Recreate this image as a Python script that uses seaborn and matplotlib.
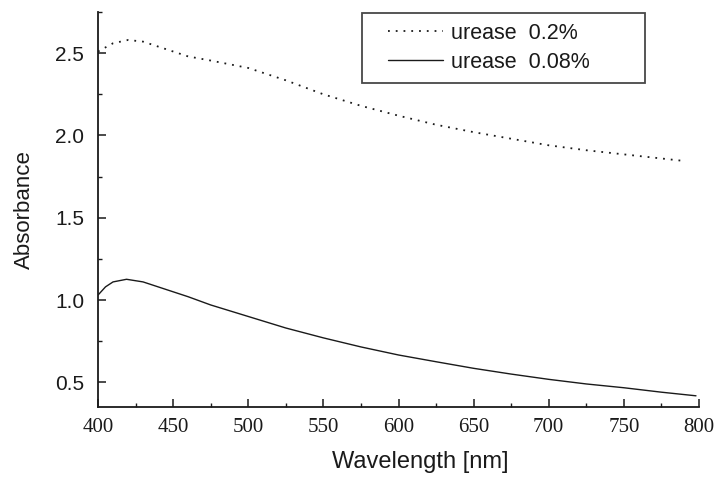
import matplotlib
matplotlib.use("Agg")
import matplotlib.pyplot as plt
import seaborn as sns
import pandas as pd
from matplotlib.ticker import MultipleLocator
from matplotlib.legend_handler import HandlerLine2D

# ---- data ----
wl_02 = [400, 410, 420, 430, 440, 450, 460, 475, 500, 525, 550, 575, 600,
         625, 650, 675, 700, 725, 750, 775, 790]
abs_02 = [2.51, 2.56, 2.58, 2.57, 2.54, 2.51, 2.48, 2.455, 2.41, 2.335, 2.25,
          2.18, 2.12, 2.065, 2.02, 1.98, 1.94, 1.91, 1.885, 1.86, 1.845]

wl_008 = [400, 405, 410, 419, 430, 440, 450, 460, 475, 500, 525, 550, 575,
          600, 625, 650, 675, 700, 725, 750, 775, 798]
abs_008 = [1.03, 1.08, 1.11, 1.126, 1.11, 1.08, 1.05, 1.02, 0.97, 0.90, 0.83,
           0.77, 0.715, 0.666, 0.625, 0.585, 0.55, 0.518, 0.49, 0.467, 0.44,
           0.418]

labels = ["urease  0.2%", "urease  0.08%"]
x_ticks = [400, 450, 500, 550, 600, 650, 700, 750, 800]
y_ticks = [0.5, 1.0, 1.5, 2.0, 2.5]

sns.set_theme(style="white")
plt.rcParams["font.family"] = ["Liberation Sans", "DejaVu Sans"]

fig = plt.figure(figsize=(7.25, 4.78), dpi=100)
ax = fig.add_axes([98 / 725, 1 - 407 / 478, 601 / 725, 395 / 478])

df02 = pd.DataFrame({"wl": wl_02, "a": abs_02})
df008 = pd.DataFrame({"wl": wl_008, "a": abs_008})

sns.lineplot(data=df02, x="wl", y="a", ax=ax, color="#1a1a1a",
             linestyle=(0, (1, 3.3)), linewidth=1.3, label=labels[0])
sns.lineplot(data=df008, x="wl", y="a", ax=ax, color="#1a1a1a",
             linestyle="-", linewidth=1.0, label=labels[1])

ax.set_xlim(400, 800)
ax.set_ylim(0.35, 2.75)
ax.set_xticks(x_ticks)
ax.set_yticks(y_ticks)
ax.xaxis.set_minor_locator(MultipleLocator(25))
ax.yaxis.set_minor_locator(MultipleLocator(0.25))
ax.set_xticklabels([str(v) for v in x_ticks], family="Liberation Serif",
                   fontsize=15)
ax.set_yticklabels([f"{v:.1f}" for v in y_ticks], fontsize=15)

ax.tick_params(axis="both", which="major", direction="in", length=6,
               width=1.1, color="#1a1a1a", labelcolor="#1a1a1a")
ax.tick_params(axis="both", which="minor", direction="in", length=3,
               width=1.0, color="#1a1a1a")
ax.tick_params(axis="x", which="both", bottom=True, pad=8)
ax.tick_params(axis="y", which="both", left=True, pad=10)

for s in ["top", "right"]:
    ax.spines[s].set_visible(False)
for s in ["left", "bottom"]:
    ax.spines[s].set_color("#1a1a1a")
    ax.spines[s].set_linewidth(1.3)

ax.set_xlabel("Wavelength [nm]", fontsize=17, color="#1a1a1a")
ax.set_ylabel("Absorbance", fontsize=16, color="#1a1a1a")
ax.xaxis.set_label_coords(0.536, -0.112)
ax.yaxis.set_label_coords(-0.105, 0.5)

fs = 15.5
handles = ax.get_lines()[:2]
leg = ax.legend(handles, labels, loc="upper left",
                bbox_to_anchor=(362 / 725, 1 - 78 / 478, 283 / 725, 65 / 478),
                bbox_transform=fig.transFigure, mode="expand",
                fontsize=fs, frameon=True, fancybox=False, shadow=False,
                borderpad=0.45, labelspacing=0.38, handlelength=3.32,
                handletextpad=0.37, borderaxespad=0.0,
                handler_map={h: HandlerLine2D(xpad=0.76) for h in handles})
leg.get_frame().set_edgecolor("#1a1a1a")
leg.get_frame().set_linewidth(1.3)
for t in leg.get_texts():
    t.set_color("#1a1a1a")

fig.savefig("out.png", dpi=100)
